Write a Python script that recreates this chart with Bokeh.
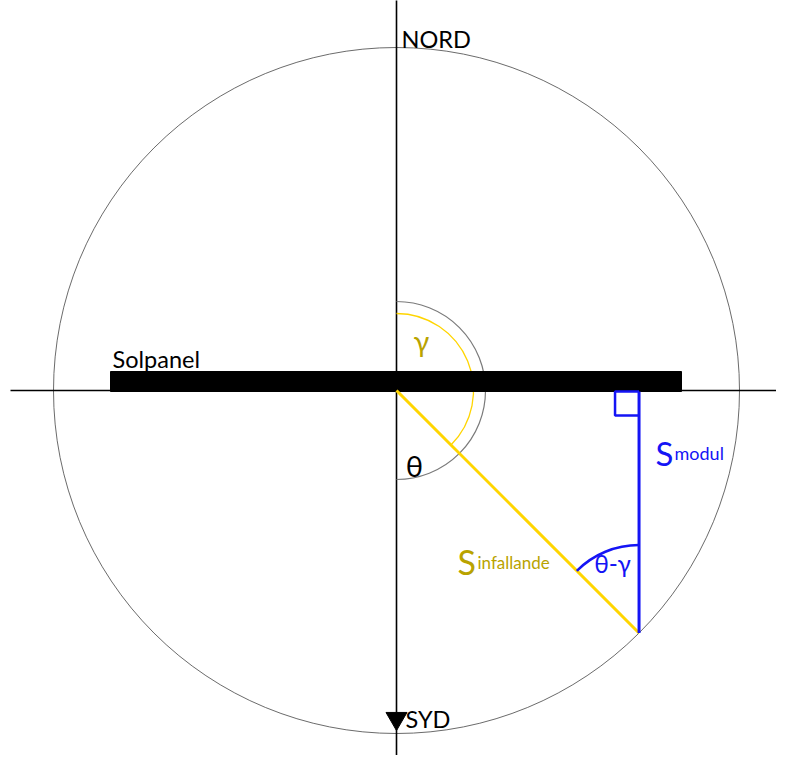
import numpy as np
from bokeh.plotting import figure
from bokeh.models import Range1d
from bokeh.core.properties import value
from bokeh.embed import file_html
from bokeh.resources import INLINE

# --- geometry values (diagram units, origin at the centre) ---
R = 343                 # radius of the sun-path circle
theta_deg = 45          # angle theta between south and incident ray
panel_x = [-286, 285]   # solar panel extent
panel_y = [-1, 19]
arc_grey_r = 89
arc_yellow_r = 77
arc_blue_r = 88
square_side = 24
labels_dir = ["NORD", "SYD"]

FONT = value("Lato")
OLIVE = "#b9a300"
YELLOW = "#ffd500"
BLUE = "#1414f5"

p = figure(width=776, height=755, output_backend="svg", toolbar_location=None,
           x_range=Range1d(-396, 380), y_range=Range1d(-365, 390),
           min_border=0)
p.axis.visible = False
p.grid.visible = False
p.outline_line_color = None
p.background_fill_color = "white"

th = np.deg2rad(theta_deg)
sx, sy = R * np.sin(th), -R * np.cos(th)

# circle
p.circle(x=[0], y=[0], radius=R, fill_color=None, line_color="#6b6b6b", line_width=1)

# axes (cross)
p.segment(x0=[0, -386], y0=[-390, 0], x1=[0, 386], y1=[395, 0], line_color="black", line_width=1.6)

# grey arc north -> east -> south
p.arc(x=[0], y=[0], radius=arc_grey_r, start_angle=np.pi / 2, end_angle=-np.pi / 2,
      direction="clock", line_color="#7a7a7a", line_width=1.2)
# yellow arc north -> incident ray
p.arc(x=[0], y=[0], radius=arc_yellow_r, start_angle=np.pi / 2, end_angle=-np.pi / 2 + th,
      direction="clock", line_color=YELLOW, line_width=1.3)

# panel
p.quad(left=[panel_x[0]], right=[panel_x[1]], bottom=[panel_y[0]], top=[panel_y[1]],
       fill_color="black", line_color="black")

# incident ray
p.line(x=[0, sx], y=[0, sy], line_color=YELLOW, line_width=3)
# normal component
p.line(x=[sx, sx], y=[sy, panel_y[0]], line_color=BLUE, line_width=3)
# right-angle square
p.line(x=[sx, sx - square_side, sx - square_side, sx],
       y=[panel_y[0] - square_side, panel_y[0] - square_side, panel_y[0], panel_y[0]],
       line_color=BLUE, line_width=2.5)
# blue arc
p.arc(x=[sx], y=[sy], radius=arc_blue_r, start_angle=np.pi / 2, end_angle=np.pi / 2 + th,
      direction="anticlock", line_color=BLUE, line_width=2.5)

# south arrow
p.scatter(x=[0], y=[-328], marker="inverted_triangle", size=21, fill_color="black", line_color="black")

# texts
p.text(x=[5], y=[352], text=[labels_dir[0]], text_font=FONT, text_font_size="23.5px",
       text_color="black", text_baseline="middle", text_align="left")
p.text(x=[9], y=[-328], text=[labels_dir[1]], text_font=FONT, text_font_size="23.5px",
       text_color="black", text_baseline="middle", text_align="left")
p.text(x=[-284], y=[32], text=["Solpanel"], text_font=FONT, text_font_size="23.5px",
       text_color="black", text_baseline="alphabetic", text_align="left")
p.text(x=[25], y=[50], text=["γ"], text_font=FONT, text_font_size="29px",
       text_color=OLIVE, text_baseline="middle", text_align="center")
p.text(x=[18], y=[-75], text=["θ"], text_font=FONT, text_font_size="29px",
       text_color="black", text_baseline="middle", text_align="center")
p.text(x=[216], y=[-173], text=["θ-γ"], text_font=FONT, text_font_size="24.5px",
       text_color=BLUE, text_baseline="middle", text_align="center")
# S_modul
p.text(x=[259], y=[-62], text=["S"], text_font=FONT, text_font_size="33px",
       text_color=BLUE, text_baseline="alphabetic", text_align="left")
p.text(x=[278], y=[-62], text=["modul"], text_font=FONT, text_font_size="18px",
       text_color=BLUE, text_baseline="alphabetic", text_align="left")
# S_infallande
p.text(x=[61], y=[-171], text=["S"], text_font=FONT, text_font_size="34px",
       text_color=OLIVE, text_baseline="alphabetic", text_align="left")
p.text(x=[81], y=[-172], text=["infallande"], text_font=FONT, text_font_size="17px",
       text_color=OLIVE, text_baseline="alphabetic", text_align="left")

open("out.html", "w").write(file_html(p, INLINE))
